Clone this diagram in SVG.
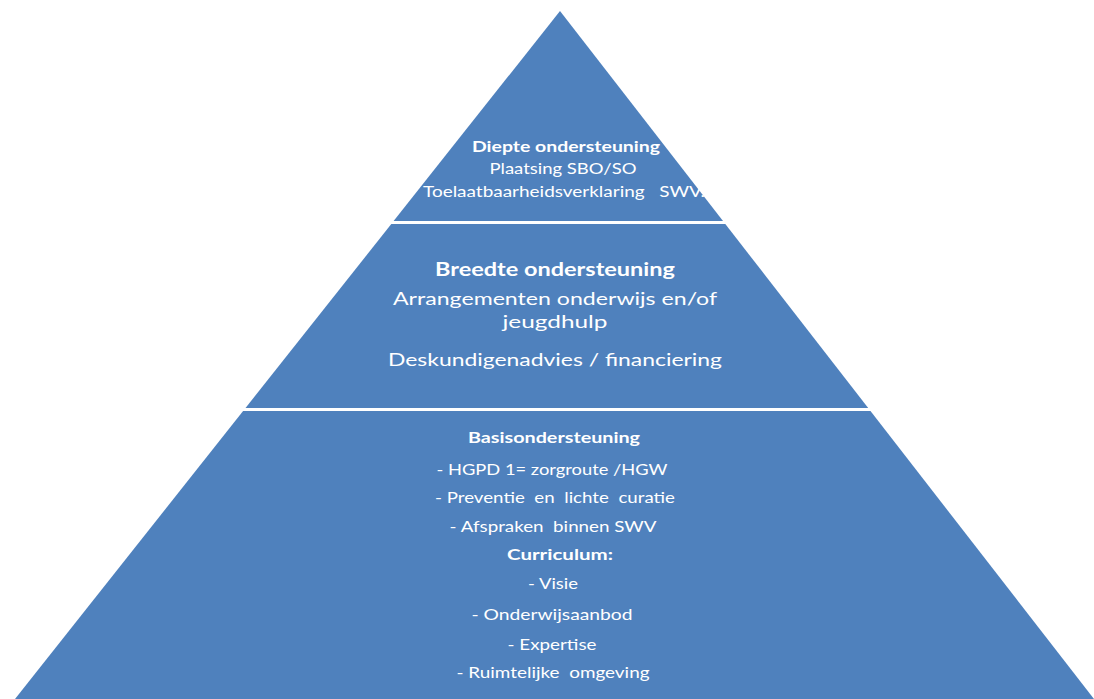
<svg xmlns="http://www.w3.org/2000/svg" width="1094" height="699" viewBox="0 0 1094 699">
<style>
.layer{fill:#4f81bd;}
.t{font-family:Lato,"Open Sans","Liberation Sans",sans-serif;fill:#ffffff;text-anchor:middle;}
.b{font-weight:bold;}
.s1{font-size:15px;}
.s2{font-size:19px;}
.s2b{font-size:18px;}
.s3{font-size:15px;}
</style>
<rect width="1094" height="699" fill="#ffffff"/>
<g id="layer-top">
<polygon class="layer" points="560,11 393.6,221 723,221"/>
<text class="t b s1" x="566" y="152" textLength="188" lengthAdjust="spacingAndGlyphs">Diepte ondersteuning</text>
<text class="t s1" x="563" y="174" textLength="147" lengthAdjust="spacingAndGlyphs">Plaatsing SBO/SO</text>
<text class="t s1" x="564" y="197" textLength="282" lengthAdjust="spacingAndGlyphs" xml:space="preserve">Toelaatbaarheidsverklaring   SWV.</text>
</g>
<g id="layer-middle">
<polygon class="layer" points="391.3,224 725.3,224 868.2,408 245.5,408"/>
<text class="t b s2" x="555" y="276" textLength="240" lengthAdjust="spacingAndGlyphs">Breedte ondersteuning</text>
<text class="t s2b" x="555" y="305" textLength="324" lengthAdjust="spacingAndGlyphs">Arrangementen onderwijs en/of</text>
<text class="t s2b" x="555" y="328" textLength="105" lengthAdjust="spacingAndGlyphs">jeugdhulp</text>
<text class="t s2b" x="555" y="366" textLength="334" lengthAdjust="spacingAndGlyphs">Deskundigenadvies / financiering</text>
</g>
<g id="layer-bottom">
<polygon class="layer" points="243.1,411 870.5,411 1094,699 15,699"/>
<text class="t b s3" x="554" y="443" textLength="172" lengthAdjust="spacingAndGlyphs">Basisondersteuning</text>
<text class="t s3" x="552" y="475" textLength="231" lengthAdjust="spacingAndGlyphs">- HGPD 1= zorgroute /HGW</text>
<text class="t s3" x="555" y="503" textLength="240" lengthAdjust="spacingAndGlyphs" xml:space="preserve">- Preventie  en  lichte  curatie</text>
<text class="t s3" x="553" y="532" textLength="207" lengthAdjust="spacingAndGlyphs" xml:space="preserve">- Afspraken  binnen SWV</text>
<text class="t b s3" x="560" y="560" textLength="106" lengthAdjust="spacingAndGlyphs">Curriculum:</text>
<text class="t s3" x="553" y="589" textLength="50" lengthAdjust="spacingAndGlyphs">- Visie</text>
<text class="t s3" x="552" y="620" textLength="161" lengthAdjust="spacingAndGlyphs">- Onderwijsaanbod</text>
<text class="t s3" x="552" y="650" textLength="89" lengthAdjust="spacingAndGlyphs">- Expertise</text>
<text class="t s3" x="553" y="678" textLength="193" lengthAdjust="spacingAndGlyphs" xml:space="preserve">- Ruimtelijke  omgeving</text>
</g>
<g id="connectors"></g>
</svg>
